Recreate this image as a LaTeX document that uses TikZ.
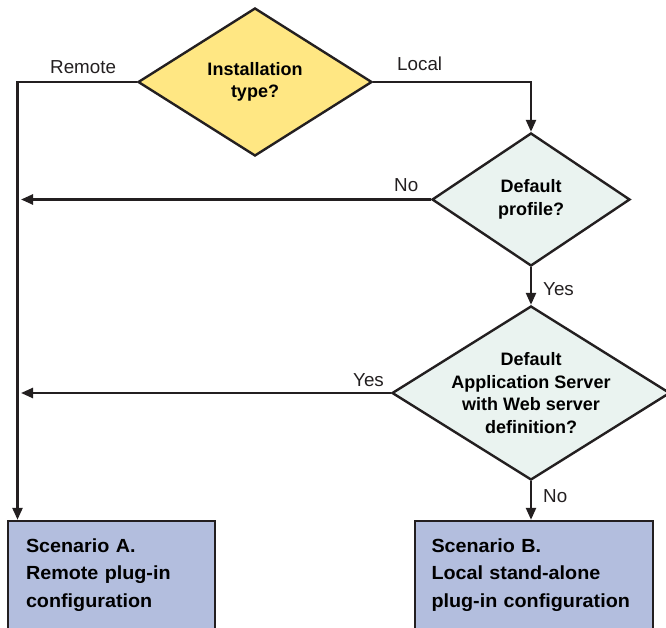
\documentclass[tikz,border=0pt]{standalone}
\usepackage{fontspec}
\setmainfont{Liberation Sans}
\newfontfamily\widesf[FakeStretch=1.04]{Liberation Sans}
\usepackage{xcolor}
\usetikzlibrary{arrows.meta,positioning,shapes.geometric,calc}
\definecolor{inkline}{HTML}{231F20}
\definecolor{qyellow}{HTML}{FFE783}
\definecolor{qmint}{HTML}{EAF3F0}
\definecolor{scenfill}{HTML}{B3BEDE}
\tikzset{
  qbox/.style={diamond,draw=inkline,line width=2.4pt,inner sep=0pt,align=center,
    font=\bfseries\fontsize{18}{22.5}\selectfont},
  scenbox/.style={rectangle,draw=inkline,fill=scenfill,line width=2.4pt,align=left,
    font=\widesf\bfseries\fontsize{19}{27.5}\selectfont},
  farr/.style={-{Triangle[length=12pt,width=10pt]},line width=2.4pt,draw=inkline},
  flabel/.style={font=\fontsize{18.8}{22}\selectfont,text=inkline,inner sep=0pt}
}
\begin{document}
\begin{tikzpicture}[x=1pt,y=-1pt]
  \useasboundingbox (0,0) rectangle (666,628);
  % decisions
  \node[qbox,fill=qyellow,minimum width=234pt,minimum height=148pt,aspect=1.58] (inst) at (255,82)
    {Installation\\type?};
  \node[qbox,fill=qmint,minimum width=198pt,minimum height=133pt,aspect=1.49] (prof) at (531,199.5)
    {Default\\profile?};
  \node[qbox,fill=qmint,inner sep=-10pt,minimum width=278pt,minimum height=174pt,aspect=1.6] (appsrv) at (531,393)
    {Default\\Application Server\\with Web server\\definition?};
  % outcomes
  \node[scenbox,text width=171pt,minimum width=207pt,minimum height=108pt] (scenA) at (111.5,575)
    {Scenario A.\\Remote plug-in\\configuration};
  \node[scenbox,text width=205pt,minimum width=238pt,minimum height=108pt] (scenB) at (534,575)
    {Scenario B.\\Local stand-alone\\plug-in configuration};
  \coordinate (rail) at (17.5,82);
  \coordinate (railin) at (21,82);
  % connectors
  \draw[farr] (inst.west) -- (rail) -- (rail |- scenA.north);
  \draw[farr] (inst.east) -| (prof.north);
  \draw[farr] (prof.west) -- (railin |- prof.west);
  \draw[farr] (prof.south) -- (appsrv.north);
  \draw[farr] (appsrv.west) -- (railin |- appsrv.west);
  \draw[farr] (appsrv.south) -- (appsrv.south |- scenB.north);
  % branch labels
  \node[flabel,anchor=base west] (lremote) at (50,74) {Remote};
  \node[flabel,anchor=base west] (llocal) at (397,71) {Local};
  \node[flabel,anchor=base west] (lno1) at (394,192) {No};
  \node[flabel,anchor=base west] (lyes1) at (543,295) {Yes};
  \node[flabel,anchor=base west] (lyes2) at (353,386) {Yes};
  \node[flabel,anchor=base west] (lno2) at (543,502) {No};
\end{tikzpicture}
\end{document}
